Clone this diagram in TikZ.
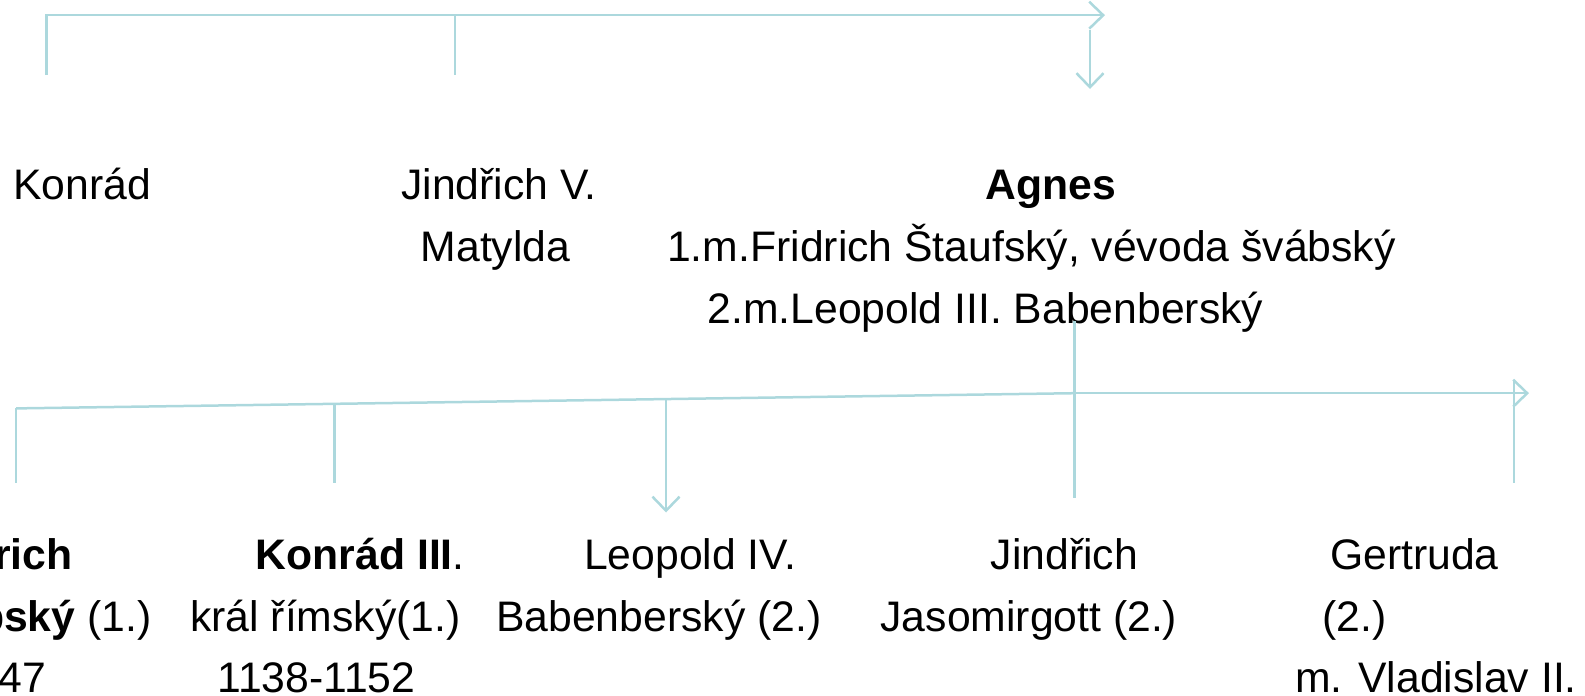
\documentclass[tikz,border=0pt]{standalone}
\usepackage{fontspec}
\setmainfont{Liberation Sans}
\usetikzlibrary{arrows.meta}
\definecolor{linec}{RGB}{172,216,221}
\tikzset{
  conn/.style={draw=linec, line width=2.5pt},
  arr/.style={conn, -{Straight Barb[length=14pt,width=27pt,line width=2.5pt]}},
  txt/.style={anchor=base west, inner sep=0pt, font=\fontsize{42.7}{42.7}\selectfont},
  txte/.style={anchor=base east, inner sep=0pt, font=\fontsize{42.7}{42.7}\selectfont},
}
\begin{document}
\begin{tikzpicture}[x=1pt,y=-1pt]
\useasboundingbox (0,0) rectangle (1585,696);
\clip (0,0) rectangle (1585,696);
% top connectors
\coordinate (t1) at (46.5,15.2);
\coordinate (t2) at (455,15.2);
\coordinate (t3) at (1105,15.2);
\coordinate (t1b) at (46.5,75);
\coordinate (t2b) at (455,75);
\coordinate (d1) at (1090,30);
\coordinate (d2) at (1090,89);
\draw[conn] (t1b) -- (t1) -- (t2);
\draw[arr] (t2) -- (t3);
\draw[conn] (t2) -- (t2b);
\draw[arr] (d1) -- (d2);
% upper texts
\node[txt] (konrad) at (13,199) {Konrád};
\node[txt] (jindrichV) at (401,199) {Jindřich V.};
\node[txt] (agnes) at (985.5,199) {\textbf{Agnes}};
\node[txt] (matylda) at (420.5,261) {Matylda};
\node[txt] (m1) at (667,261) {1.m.Fridrich Štaufský, vévoda švábský};
\node[txt] (m2) at (707.5,323) {2.m.Leopold III. Babenberský};
% lower connectors
\coordinate (l0) at (16.2,408.4);
\coordinate (l1) at (334.6,404);
\coordinate (l2) at (666,399.5);
\coordinate (l3) at (1074.5,393.2);
\coordinate (l5) at (1529,393.2);
\draw[conn] (l0) -- (l3);
\draw[arr] (l3) -- (l5);
\draw[conn] (l0) -- (16.2,483) coordinate (l0b);
\draw[conn] (l1) -- (334.6,483) coordinate (l1b);
\draw[arr] (l2) -- (666,512.5) coordinate (l2b);
\draw[conn] (1074.5,321.4) coordinate (l3a) -- (1074.5,498) coordinate (l3b);
\draw[conn] (1514,380) coordinate (l4a) -- (1514,483) coordinate (l4b);
% lower texts
\node[txte] (fr1) at (72.8,569) {\textbf{Fridrich}};
\node[txte] (fr2) at (151.6,631) {\textbf{Švábský} (1.)};
\node[txte] (fr3) at (46,692) {1147};
\node[txt] (k1) at (255.7,569) {\textbf{Konrád III}.};
\node[txt] (k2) at (190,631) {král římský(1.)};
\node[txt] (k3) at (217.3,692) {1138-1152};
\node[txt] (le1) at (584,569) {Leopold IV.};
\node[txt] (le2) at (496,631) {Babenberský (2.)};
\node[txt] (ji1) at (990.6,569) {Jindřich};
\node[txt] (ji2) at (880.4,631) {Jasomirgott (2.)};
\node[txt] (ge1) at (1330,569) {Gertruda};
\node[txt] (ge2) at (1322,631) {(2.)};
\node[txt] (ge3) at (1295,692) {m. Vladislav II.};
\end{tikzpicture}
\end{document}
